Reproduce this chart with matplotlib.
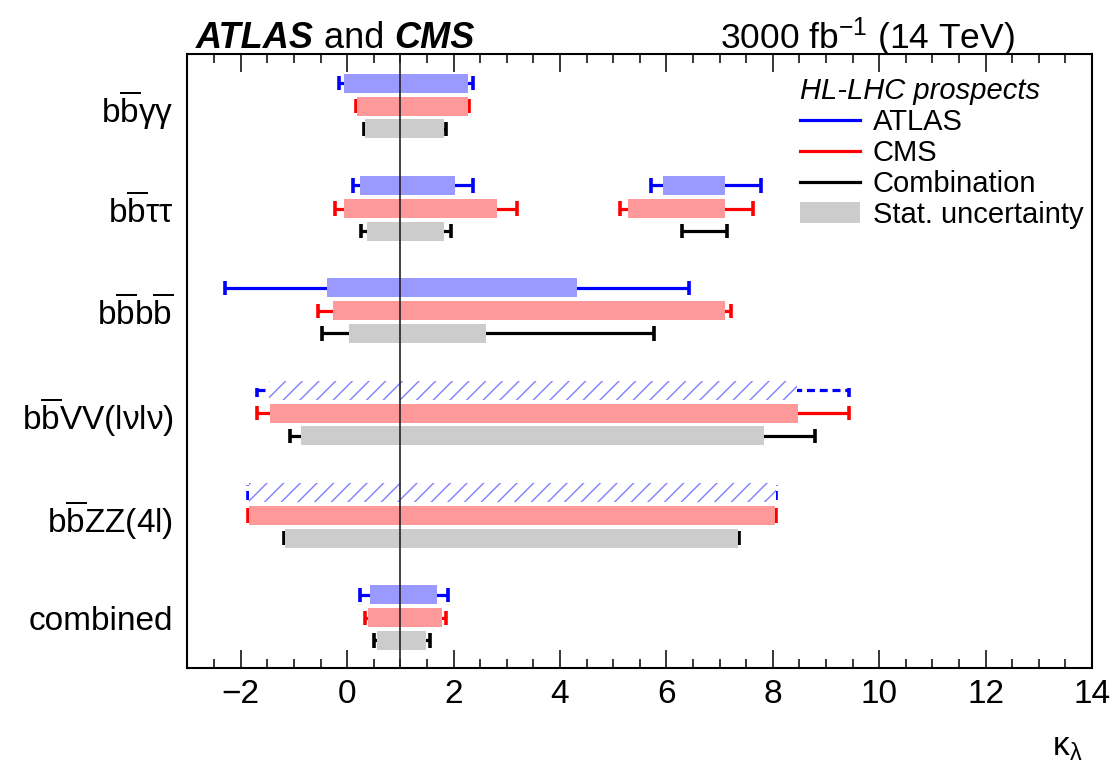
import matplotlib.pyplot as plt
from matplotlib.lines import Line2D
from matplotlib.patches import Patch
from matplotlib.ticker import MultipleLocator

plt.rcParams['font.family'] = 'Liberation Sans'
plt.rcParams['mathtext.fontset'] = 'custom'
plt.rcParams['mathtext.rm'] = 'Liberation Sans'
plt.rcParams['mathtext.it'] = 'Liberation Sans:italic'
plt.rcParams['mathtext.bf'] = 'Liberation Sans:bold'
plt.rcParams['hatch.linewidth'] = 1.0

# channels, top to bottom
channels = [r'b$\overline{\mathrm{b}}$γγ',
            r'b$\overline{\mathrm{b}}$ττ',
            r'b$\overline{\mathrm{b}}$b$\overline{\mathrm{b}}$',
            r'b$\overline{\mathrm{b}}$VV(lνlν)',
            r'b$\overline{\mathrm{b}}$ZZ(4l)',
            'combined']

# 68% intervals on kappa_lambda, (low, high); bbtautau has two islands
atlas_total = [[(-0.15, 2.36)], [(0.11, 2.36), (5.72, 7.78)], [(-2.29, 6.42)],
               [(-1.70, 9.44)], [(-1.87, 8.06)], [(0.24, 1.90)]]
atlas_stat = [[(-0.05, 2.28)], [(0.24, 2.02), (5.94, 7.10)], [(-0.37, 4.33)],
              [(-1.46, 8.46)], [(-1.84, 8.06)], [(0.43, 1.69)]]
atlas_hatched = [False, False, False, True, True, False]

cms_total = [[(0.16, 2.30)], [(-0.22, 3.20), (5.13, 7.63)], [(-0.54, 7.21)],
             [(-1.70, 9.44)], [(-1.87, 8.06)], [(0.34, 1.86)]]
cms_stat = [[(0.18, 2.27)], [(-0.06, 2.82), (5.28, 7.10)], [(-0.26, 7.10)],
            [(-1.45, 8.47)], [(-1.84, 8.05)], [(0.39, 1.78)]]

comb_total = [[(0.31, 1.85)], [(0.26, 1.96), (6.30, 7.14)], [(-0.47, 5.77)],
              [(-1.07, 8.79)], [(-1.19, 7.37)], [(0.51, 1.55)]]
comb_stat = [[(0.33, 1.83)], [(0.37, 1.83)], [(0.03, 2.61)],
             [(-0.87, 7.83)], [(-1.16, 7.35)], [(0.56, 1.49)]]

sm_value = 1.0

fig = plt.figure(figsize=(11.16, 7.69), dpi=100)
ax = fig.add_axes([0.168, 0.1313, 0.8105, 0.7985])

bar_h = 0.185
cap = 0.07


def draw_row(y, total, stat, fill, line, hatched=False):
    ls = (0, (2.5, 1.5)) if hatched else '-'
    for lo, hi in total:
        ax.hlines(y, lo, hi, color=line, lw=2.3, linestyles=ls, zorder=2)
        ax.vlines([lo, hi], y - cap, y + cap, color=line, lw=2.6,
                  linestyles=ls, zorder=2)
    for lo, hi in stat:
        if hatched:
            ax.barh(y, hi - lo, left=lo, height=bar_h, facecolor='white',
                    edgecolor='#7f7fff', hatch='//', lw=0, zorder=3)
        else:
            ax.barh(y, hi - lo, left=lo, height=bar_h, color=fill,
                    lw=0, zorder=3)


n = len(channels)
label_pos = []
for i in range(n):
    base = n - 1 - i
    draw_row(base + 0.715, atlas_total[i], atlas_stat[i], '#9999ff', '#0000ff',
             atlas_hatched[i])
    draw_row(base + 0.49, cms_total[i], cms_stat[i], '#ff9999', '#ff0000')
    draw_row(base + 0.27, comb_total[i], comb_stat[i], '#cccccc', 'black')
    label_pos.append(base + 0.49)

ax.axvline(sm_value, color='#222222', lw=1.2, zorder=4)

ax.set_xlim(-3, 14)
ax.set_ylim(0, n)
ax.xaxis.set_major_locator(MultipleLocator(2))
ax.xaxis.set_minor_locator(MultipleLocator(0.5))
ax.set_yticks(label_pos)
ax.set_yticklabels(channels, fontsize=24)
ax.tick_params(axis='y', length=0, pad=10)
ax.tick_params(axis='x', which='both', direction='in', top=True,
               labelsize=24, pad=8, width=1.1)
ax.tick_params(axis='x', which='major', length=13)
ax.tick_params(axis='x', which='minor', length=6.5)
for s in ax.spines.values():
    s.set_linewidth(1.5)

ax.text(0.989, -0.13, r'κ$_{\mathrm{λ}}$', transform=ax.transAxes,
        ha='right', va='center', fontsize=24)

# header
t1 = ax.text(0.009, 1.009, 'ATLAS', transform=ax.transAxes, fontsize=26,
             fontweight='bold', fontstyle='italic', va='baseline')
t2 = ax.annotate(' and ', xy=(1, 0), xycoords=t1, fontsize=26,
                 va='bottom', ha='left')
ax.annotate('CMS', xy=(1, 0), xycoords=t2, fontsize=26, fontweight='bold',
            fontstyle='italic', va='bottom', ha='left')
ax.text(0.915, 1.009, r'3000 fb$^{\mathrm{-1}}$ (14 TeV)', transform=ax.transAxes,
        fontsize=25.5, ha='right', va='baseline')

handles = [Line2D([], [], color='#0000ff', lw=2.3),
           Line2D([], [], color='#ff0000', lw=2.3),
           Line2D([], [], color='black', lw=2.3),
           Patch(facecolor='#cccccc', lw=0)]
leg = ax.legend(handles, ['ATLAS', 'CMS', 'Combination', 'Stat. uncertainty'],
                title='HL-LHC prospects', alignment='left',
                title_fontproperties={'size': 21, 'style': 'italic'},
                loc='upper left', bbox_to_anchor=(0.677, 0.962),
                frameon=False, fontsize=21, borderpad=0, borderaxespad=0,
                handlelength=2.05, handletextpad=0.45, handleheight=0.72,
                labelspacing=0.1)
leg._legend_box.sep = 2

fig.savefig('out.png', dpi=100)
